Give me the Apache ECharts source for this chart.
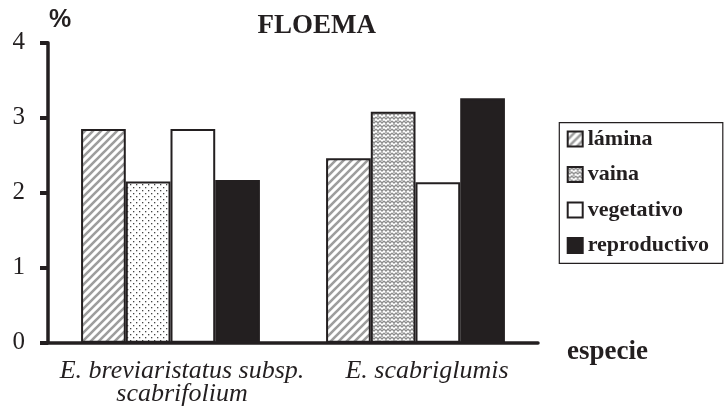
<!DOCTYPE html>
<html>
<head>
<meta charset="utf-8">
<script src="https://cdn.jsdelivr.net/npm/echarts@6/dist/echarts.min.js"></script>
<style>
html, body { margin: 0; padding: 0; background: #fff; }
#chart { width: 724px; height: 420px; }
</style>
</head>
<body>
<div id="chart"></div>
<script>
const species = ['E. breviaristatus subsp.\nscabrifolium', 'E. scabriglumis'];
const lamina = [2.85, 2.46];
const vaina = [2.15, 3.08];
const vegetativo = [2.85, 2.14];
const reproductivo = [2.17, 3.26];
const yTicks = [0, 1, 2, 3, 4];

const ink = '#231f20';
const serif = 'Liberation Serif';

// small canvas tiles used as bar fills
function makePattern(size, draw) {
  const c = document.createElement('canvas');
  c.width = size;
  c.height = size;
  const ctx = c.getContext('2d');
  ctx.fillStyle = '#fff';
  ctx.fillRect(0, 0, size, size);
  draw(ctx, size);
  return { image: c, repeat: 'repeat' };
}

const stripes = makePattern(8, (ctx, s) => {
  ctx.strokeStyle = '#9d9d9d';
  ctx.lineWidth = 2.6;
  ctx.beginPath();
  ctx.moveTo(-2, s + 2); ctx.lineTo(s + 2, -2);
  ctx.moveTo(-2, 2); ctx.lineTo(2, -2);
  ctx.moveTo(s - 2, s + 2); ctx.lineTo(s + 2, s - 2);
  ctx.stroke();
});

const dots = makePattern(6, (ctx) => {
  ctx.fillStyle = '#444';
  ctx.fillRect(1, 1, 1.3, 1.3);
  ctx.fillRect(4, 4, 1.3, 1.3);
});

const zigzag = makePattern(8, (ctx) => {
  ctx.strokeStyle = '#8c8c8c';
  ctx.lineWidth = 1.3;
  ctx.beginPath();
  ctx.moveTo(0, 1); ctx.lineTo(2, 3); ctx.lineTo(4, 1); ctx.lineTo(6, 3); ctx.lineTo(8, 1);
  ctx.moveTo(0, 5); ctx.lineTo(2, 7); ctx.lineTo(4, 5); ctx.lineTo(6, 7); ctx.lineTo(8, 5);
  ctx.moveTo(2, 3); ctx.lineTo(2, 5);
  ctx.moveTo(6, 7); ctx.lineTo(6, 9);
  ctx.moveTo(6, -1); ctx.lineTo(6, 1);
  ctx.stroke();
});

const chart = echarts.init(document.getElementById('chart'), null, { renderer: 'canvas' });

const barBorder = { borderColor: ink, borderWidth: 2 };

const option = {
  animation: false,
  grid: { left: 48, right: 186, top: 42.7, bottom: 77.3, outerBoundsMode: 'none' },
  legend: {
    orient: 'vertical',
    left: 566.7,
    top: 128,
    padding: 0,
    itemWidth: 15,
    itemHeight: 15,
    itemGap: 13.5,
    icon: 'rect',
    textStyle: { fontFamily: serif, fontWeight: 'bold', fontSize: 22, lineHeight: 22, color: ink }
  },
  xAxis: {
    type: 'category',
    data: species,
    axisLine: { lineStyle: { color: ink, width: 3.5 } },
    axisTick: { interval: 0, length: 6, lineStyle: { color: ink, width: 3.5 } },
    axisLabel: {
      interval: 0,
      hideOverlap: false,
      fontFamily: serif,
      fontStyle: 'italic',
      fontSize: 26,
      lineHeight: 23,
      color: ink,
      margin: 17,
      padding: [0, 0, 0, 23]
    }
  },
  yAxis: {
    type: 'value',
    min: yTicks[0],
    max: yTicks[yTicks.length - 1],
    interval: 1,
    splitLine: { show: false },
    axisLine: { show: true, lineStyle: { color: ink, width: 3.5 } },
    axisTick: { show: true, length: 8, lineStyle: { color: ink, width: 4 } },
    axisLabel: { fontFamily: serif, fontSize: 25, color: ink, margin: 23 }
  },
  series: [
    {
      name: 'lámina', type: 'bar', data: lamina,
      barGap: '0%', barCategoryGap: '27%',
      itemStyle: Object.assign({ color: stripes }, barBorder)
    },
    {
      name: 'vaina', type: 'bar',
      data: vaina.map((v, i) => i === 0 ? { value: v, itemStyle: { color: dots } } : v),
      itemStyle: Object.assign({ color: zigzag }, barBorder)
    },
    {
      name: 'vegetativo', type: 'bar', data: vegetativo,
      itemStyle: Object.assign({ color: '#fff' }, barBorder)
    },
    {
      name: 'reproductivo', type: 'bar', data: reproductivo,
      barGap: '0%', barCategoryGap: '27%',
      itemStyle: { color: ink, borderColor: ink, borderWidth: 2 }
    }
  ],
  graphic: [
    {
      type: 'text',
      style: { text: 'FLOEMA', x: 316.7, y: 25.9, align: 'center', verticalAlign: 'middle',
        font: 'bold 27px "Liberation Serif"', fill: ink }
    },
    {
      type: 'text',
      style: { text: '%', x: 49, y: 20.3, align: 'left', verticalAlign: 'middle',
        font: 'bold 25px "Liberation Sans"', fill: ink }
    },
    {
      type: 'text',
      style: { text: 'especie', x: 567, y: 352, align: 'left', verticalAlign: 'middle',
        font: 'bold 27px "Liberation Serif"', fill: ink }
    },
    {
      type: 'rect',
      shape: { x: 559.3, y: 122.7, width: 163.5, height: 140.6 },
      style: { fill: 'none', stroke: ink, lineWidth: 1.2 }
    }
  ]
};

chart.setOption(option);
</script>
</body>
</html>
